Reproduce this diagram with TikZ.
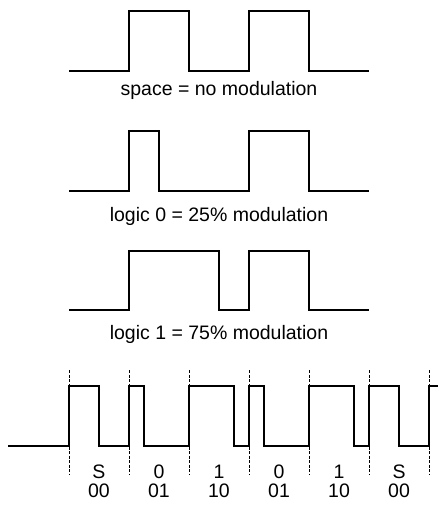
\documentclass[tikz,border=0pt]{standalone}
\usepackage{fontspec}
\setmainfont{Liberation Sans}

\tikzset{
    wave/.style={line width=2.2pt, line join=miter},
    bitline/.style={line width=1pt, dash pattern=on 3pt off 1.5pt},
    caption/.style={anchor=base, inner sep=0pt, font=\fontsize{19.5}{22}\selectfont}
}

\begin{document}
\begin{tikzpicture}[x=1pt,y=-1pt]
    \useasboundingbox (0,0) rectangle (438,506);

    % Draw the space symbol (no modulation)
    \draw[wave] (69,71) -- (129,71) -- (129,11) -- (189,11) -- (189,71)
        -- (249,71) -- (249,11) -- (309,11) -- (309,71) -- (369,71);
    \node[caption] (space) at (219,95.5) {space = no modulation};

    % Draw logic 0 (25% modulation)
    \draw[wave] (69,191) -- (129,191) -- (129,131) -- (159,131) -- (159,191)
        -- (249,191) -- (249,131) -- (309,131) -- (309,191) -- (369,191);
    \node[caption] (zero) at (219,221.5) {logic 0 = 25\% modulation};

    % Draw logic 1 (75% modulation)
    \draw[wave] (69,310) -- (129,310) -- (129,251) -- (219,251) -- (219,310)
        -- (249,310) -- (249,251) -- (309,251) -- (309,310) -- (369,310);
    \node[caption] (one) at (219,339.5) {logic 1 = 75\% modulation};

    % Draw the bit cell borders
    \foreach \x in {69,129,189,249,309,369,429} {
        \draw[bitline] (\x,370) -- (\x,475);
    }

    % Draw the example frame
    \draw[wave] (8,446)
        \foreach \x/\w in {69/30, 129/15, 189/45, 249/15, 309/45, 369/30} {
            -- (\x,446) -- (\x,386) -- ++(\w,0) |- (\x+60,446)
        }
        -- (429,386) -- (440,386);

    % Draw symbols and bit pairs below each cell
    \foreach \x/\sym/\bits [count=\i] in {69/S/00, 129/0/01, 189/1/10, 249/0/01, 309/1/10, 369/S/00} {
        \node[caption] (sym\i) at (\x+30,478) {\sym};
        \node[caption] (bits\i) at (\x+30,497) {\bits};
    }

\end{tikzpicture}
\end{document}
